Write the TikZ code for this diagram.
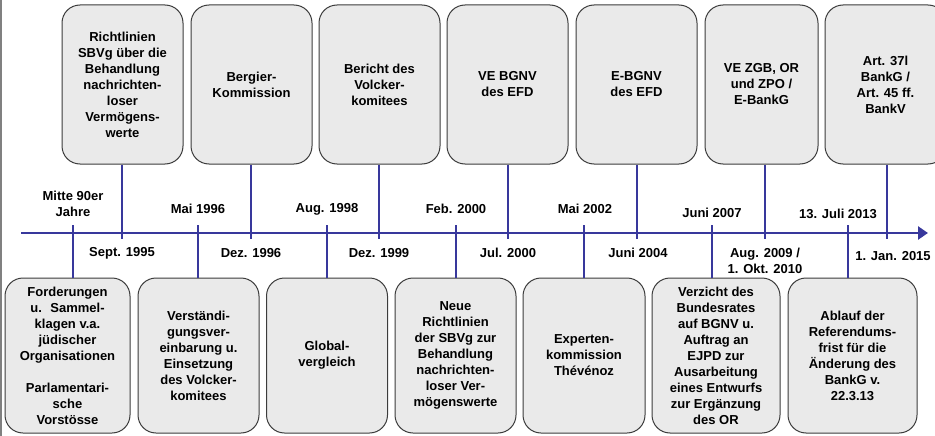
\documentclass[tikz,border=0pt]{standalone}
\usepackage{fontspec}
\setmainfont{Liberation Sans}
\usepackage{tikz}
\usetikzlibrary{arrows.meta}
\definecolor{linkblue}{RGB}{56,56,156}
\definecolor{boxgray}{RGB}{234,234,234}
\definecolor{rimgray}{RGB}{60,60,60}

\begin{document}
\begin{tikzpicture}[x=1pt,y=-1pt,
  every node/.style={font=\bfseries\fontsize{13}{16}\selectfont, align=center, inner sep=0pt},
  event/.style={draw=rimgray, line width=1pt, fill=boxgray, rounded corners=18pt, minimum width=121pt},
  upper/.style={event, minimum height=159pt},
  lower/.style={event, minimum height=155pt},
  link/.style={draw=linkblue, line width=2.8pt}]
\useasboundingbox (0,0) rectangle (935,436);
\draw[gray, line width=1.5pt] (1,0) -- (1,436);

% axis
\coordinate (start) at (21,233);
\coordinate (end) at (928,233);
\draw[link, -{Triangle[length=10pt,width=13pt]}] (start) -- (end);

% upper row
\draw (122.5,84.5) node[upper] (sbvg) {Richtlinien\\SBVg über die\\Behandlung\\nachrichten-\\loser\\Vermögens-\\werte};
\draw (251.5,84.5) node[upper] (bergier) {Bergier-\\Kommission};
\draw (379.5,84.5) node[upper] (volcker) {Bericht des\\Volcker-\\komitees};
\draw (507.5,84.5) node[upper] (vebgnv) {VE BGNV\\des EFD};
\draw (636.5,84.5) node[upper] (ebgnv) {E-BGNV\\des EFD};
\draw (761.5,84.5) node[upper, minimum width=113pt] (vezgb) {VE ZGB, OR\\und ZPO /\\E-BankG};
\draw (885.5,84.5) node[upper] (art) {Art. 37l\\BankG /\\Art. 45 ff.\\BankV};

% lower row
\draw (67.5,355.5) node[lower, minimum width=125pt] (klagen) {Forderungen\\u.~ Sammel-\\klagen v.a.\\jüdischer\\Organisationen\\[16pt]Parlamentari-\\sche\\Vorstösse};
\draw (198.5,355.5) node[lower] (vereinb) {Verständi-\\gungsver-\\einbarung u.\\Einsetzung\\des Volcker-\\komitees};
\draw (327,355.5) node[lower] (global) {Global-\\vergleich};
\draw (455.5,355.5) node[lower] (neurl) {Neue\\Richtlinien\\der SBVg zur\\Behandlung\\nachrichten-\\loser Ver-\\mögenswerte};
\draw (584,355.5) node[lower, minimum width=122pt] (experten) {Experten-\\kommission\\Thévénoz};
\draw (716,355.5) node[lower, minimum width=128pt] (verzicht) {Verzicht des\\Bundesrates\\auf BGNV u.\\Auftrag an\\EJPD zur\\Ausarbeitung\\eines Entwurfs\\zur Ergänzung\\des OR};
\draw (852.5,355.5) node[lower, minimum width=129pt] (referendum) {Ablauf der\\Referendums-\\frist für die\\Änderung des\\BankG v.\\22.3.13};

% tick ends
\coordinate (k95) at (122,239);
\coordinate (k96) at (251,239);
\coordinate (k99) at (379,239);
\coordinate (k00) at (508,239);
\coordinate (k04) at (637,239);
\coordinate (k09) at (765,239);
\coordinate (k15) at (887,239);
\coordinate (m90) at (73,225);
\coordinate (m96) at (198,225);
\coordinate (m98) at (327,225);
\coordinate (m00) at (456,225);
\coordinate (m02) at (584,225);
\coordinate (m07) at (712,225);
\coordinate (m13) at (848,225);

\draw[link]
     (sbvg.south -| k95) to (k95)
     (bergier.south -| k96) to (k96)
     (volcker.south -| k99) to (k99)
     (vebgnv.south -| k00) to (k00)
     (ebgnv.south -| k04) to (k04)
     (vezgb.south -| k09) to (k09)
     (art.south -| k15) to (k15)

     (klagen.north -| m90) to (m90)
     (vereinb.north -| m96) to (m96)
     (global.north -| m98) to (m98)
     (neurl.north -| m00) to (m00)
     (experten.north -| m02) to (m02)
     (verzicht.north -| m07) to (m07)
     (referendum.north -| m13) to (m13);

% dates
\draw (73,204) node (d90) {Mitte 90er\\Jahre};
\draw (198,209) node (d96a) {Mai 1996};
\draw (327,209) node (d98) {Aug. 1998};
\draw (456,209) node (d00a) {Feb. 2000};
\draw (585,209) node (d02) {Mai 2002};
\draw (712,213) node (d07) {Juni 2007};
\draw (838,214) node (d13) {13. Juli 2013};

\draw (122,253) node (d95) {Sept. 1995};
\draw (251,253) node (d96b) {Dez. 1996};
\draw (379,253) node (d99) {Dez. 1999};
\draw (508,253) node (d00b) {Jul. 2000};
\draw (638,253) node (d04) {Juni 2004};
\draw (765,261) node (d09) {Aug. 2009 /\\1. Okt. 2010};
\draw (893,256) node (d15) {1. Jan. 2015};
\end{tikzpicture}
\end{document}
